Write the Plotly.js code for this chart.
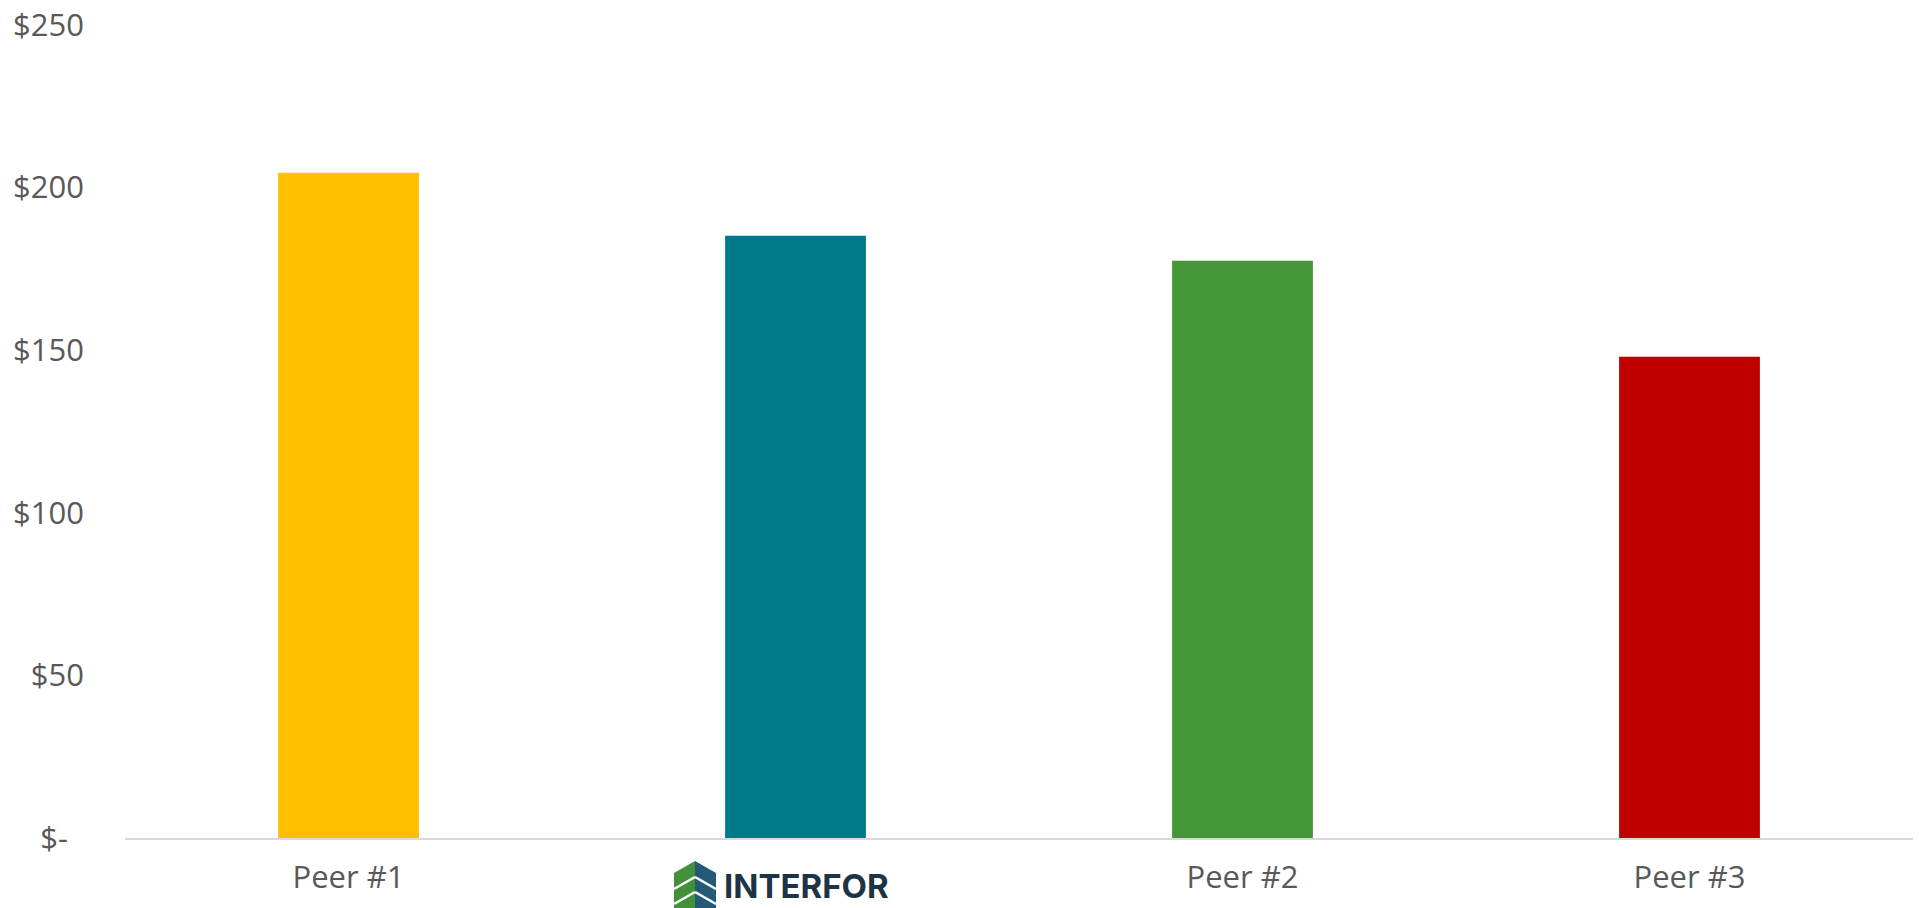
<!DOCTYPE html>
<html>
<head>
<meta charset="utf-8">
<script src="https://cdn.plot.ly/plotly-3.0.1.min.js"></script>
<style>
html,body{margin:0;padding:0;background:#fff;}
#chart{width:1919px;height:908px;}
</style>
</head>
<body>
<div id="chart"></div>
<script>
// ---- data ----
var categories = ["Peer #1", "Interfor", "Peer #2", "Peer #3"];
var values = [204.6, 185.2, 177.5, 148.0];
var barColors = ["#FFC000", "#007A8A", "#459639", "#C00000"];
var xTickText = ["Peer #1", "", "Peer #2", "Peer #3"];
var yTickVals = [0, 50, 100, 150, 200, 250];
var yTickText = ["$-\u00a0\u00a0", "$50", "$100", "$150", "$200", "$250"];
var logoWord = "INTERFOR";

// ---- layout geometry (pixels) ----
var W = 1919, H = 908;
var mL = 125, mR = 6, mT = 25, mB = 70;
var plotW = W - mL - mR, plotH = H - mT - mB;
function px(x){ return (x - mL) / plotW; }
function py(y){ return (H - mB - y) / plotH; }

// logo icon shapes (paper coords computed from pixel positions)
var tipX = 695, tipY = 861, lX = 674, rX = 716, shY = 873, botY = 908;
var shapes = [
  {type:"path", xref:"paper", yref:"paper", layer:"above",
   path:"M"+px(tipX)+","+py(tipY)+" L"+px(lX)+","+py(shY)+" L"+px(lX)+","+py(botY)+" L"+px(tipX)+","+py(botY)+" Z",
   fillcolor:"#43903A", line:{width:0}},
  {type:"path", xref:"paper", yref:"paper", layer:"above",
   path:"M"+px(tipX)+","+py(tipY)+" L"+px(rX)+","+py(shY)+" L"+px(rX)+","+py(botY)+" L"+px(tipX)+","+py(botY)+" Z",
   fillcolor:"#245A78", line:{width:0}}
];
[16, 31].forEach(function(d){
  shapes.push({type:"line", xref:"paper", yref:"paper", layer:"above",
    x0:px(lX), y0:py(shY+d), x1:px(tipX), y1:py(tipY+d),
    line:{color:"#ffffff", width:2.5}});
  shapes.push({type:"line", xref:"paper", yref:"paper", layer:"above",
    x0:px(rX), y0:py(shY+d), x1:px(tipX), y1:py(tipY+d),
    line:{color:"#ffffff", width:2.5}});
});

var trace = {
  type:"bar",
  x: categories,
  y: values,
  marker:{color: barColors, line:{width:0}},
  hoverinfo:"x+y"
};

var layout = {
  width: W, height: H,
  margin:{l:mL, r:mR, t:mT, b:mB, pad:0},
  paper_bgcolor:"#ffffff",
  plot_bgcolor:"#ffffff",
  showlegend:false,
  bargap:0.685,
  font:{family:"Open Sans, sans-serif", color:"#595959", size:31},
  xaxis:{
    type:"category",
    tickmode:"array",
    tickvals: categories,
    ticktext: xTickText,
    showgrid:false,
    zeroline:false,
    showline:true,
    linecolor:"#D9D9D9",
    linewidth:2,
    ticks:"",
    ticklabelstandoff:11,
    tickfont:{family:"Open Sans, sans-serif", size:31, color:"#595959"},
    fixedrange:true
  },
  yaxis:{
    range:[0, 250],
    tickmode:"array",
    tickvals: yTickVals,
    ticktext: yTickText,
    showgrid:false,
    zeroline:false,
    showline:false,
    ticks:"",
    ticklabelstandoff:40,
    tickfont:{family:"Open Sans, sans-serif", size:31, color:"#595959"},
    fixedrange:true
  },
  shapes: shapes,
  annotations:[{
    xref:"paper", yref:"paper",
    x: px(722), y: py(886),
    xanchor:"left", yanchor:"middle",
    text: "<b>"+logoWord+"</b>",
    showarrow:false,
    font:{family:"Inter, Lato, sans-serif", size:33, color:"#1D3447"}
  }]
};

Plotly.newPlot("chart", [trace], layout, {displayModeBar:false, staticPlot:true});
</script>
</body>
</html>
